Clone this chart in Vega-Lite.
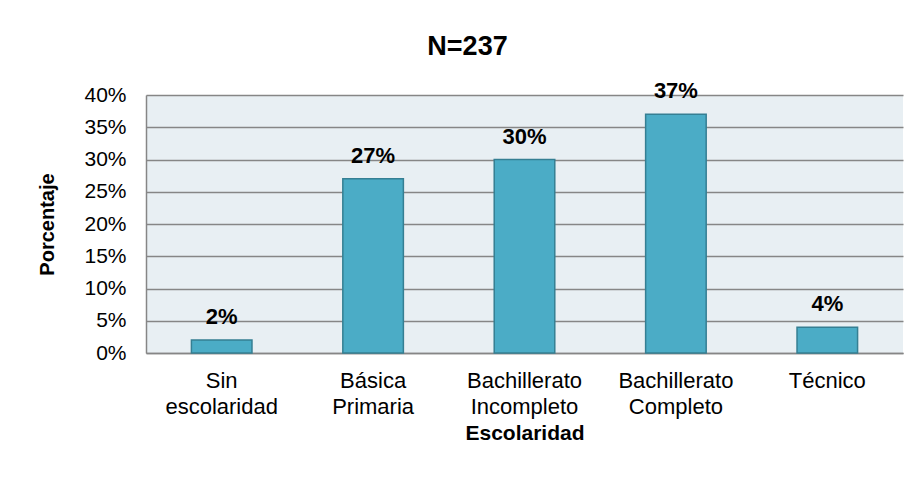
{
  "$schema": "https://vega.github.io/schema/vega-lite/v6.json",
  "autosize": {"type": "none"},
  "width": 757,
  "height": 258,
  "padding": {"left": 146, "top": 95, "right": 14, "bottom": 130},
  "background": "white",
  "config": {
    "font": "Liberation Sans",
    "view": {"stroke": null, "fill": "#e8eff3"}
  },
  "title": {
    "text": "N=237",
    "fontSize": 27,
    "fontWeight": "bold",
    "color": "black",
    "anchor": "middle",
    "dx": -57,
    "offset": 19
  },
  "data": {
    "values": [
      {"nivel": "Sin escolaridad", "pct": 0.02},
      {"nivel": "Básica Primaria", "pct": 0.27},
      {"nivel": "Bachillerato Incompleto", "pct": 0.30},
      {"nivel": "Bachillerato Completo", "pct": 0.37},
      {"nivel": "Técnico", "pct": 0.04}
    ]
  },
  "encoding": {
    "x": {
      "field": "nivel",
      "type": "nominal",
      "sort": null,
      "title": "Escolaridad",
      "scale": {"paddingInner": 0.6, "paddingOuter": 0.3},
      "axis": {
        "labelAngle": 0,
        "labelExpr": "split(datum.label, ' ')",
        "labelFontSize": 22,
        "labelColor": "black",
        "labelLineHeight": 26,
        "labelBaseline": "top",
        "labelPadding": 17,
        "ticks": false,
        "domainColor": "#868686",
        "domainWidth": 1.5,
        "titleFontSize": 21,
        "titleFontWeight": "bold",
        "titleColor": "black",
        "titlePadding": 5
      }
    },
    "y": {
      "field": "pct",
      "type": "quantitative",
      "title": "Porcentaje",
      "scale": {"domain": [0, 0.4]},
      "axis": {
        "values": [0, 0.05, 0.1, 0.15, 0.2, 0.25, 0.3, 0.35, 0.4],
        "format": ".0%",
        "labelFontSize": 21,
        "labelColor": "black",
        "labelPadding": 20,
        "ticks": false,
        "domainColor": "#868686",
        "domainWidth": 1.5,
        "gridColor": "#868686",
        "gridWidth": 1.5,
        "titleFontSize": 20,
        "titleFontWeight": "bold",
        "titleColor": "black",
        "titlePadding": 26
      }
    }
  },
  "layer": [
    {
      "mark": {"type": "bar", "fill": "#4bacc6", "stroke": "#357f93", "strokeWidth": 1.5}
    },
    {
      "mark": {"type": "text", "fontSize": 22, "fontWeight": "bold", "color": "black", "baseline": "alphabetic", "dy": -16},
      "encoding": {
        "text": {"field": "pct", "type": "quantitative", "format": ".0%"}
      }
    }
  ]
}
